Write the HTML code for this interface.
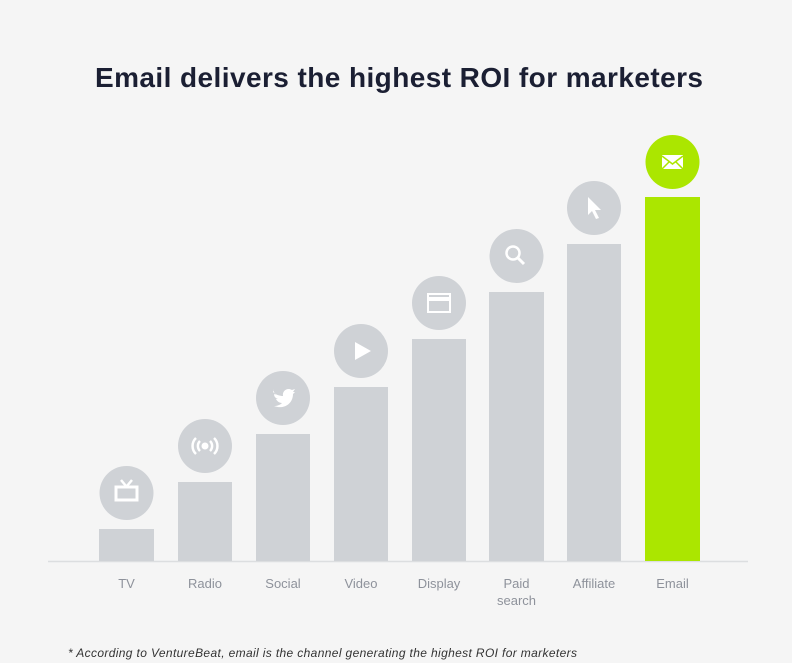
<!DOCTYPE html>
<html><head><style>
body{margin:0;background:#f5f5f5;}
svg{display:block;font-family:"Liberation Sans",sans-serif;}
</style></head><body>
<svg width="792" height="663" viewBox="0 0 792 663">
<rect width="792" height="663" fill="#f5f5f5"/>
<text x="95" y="87" font-size="28" font-weight="bold" fill="#1b1f33" textLength="608" lengthAdjust="spacing">Email delivers the highest ROI for marketers</text>
<line x1="48" y1="561.5" x2="748" y2="561.5" stroke="#dcdee0" stroke-width="1.5"/>
<g fill="#cfd2d6">
<rect x="99" y="529" width="55" height="32"/><circle cx="126.5" cy="493" r="27"/>
<rect x="178" y="482" width="54" height="79"/><circle cx="205" cy="446" r="27"/>
<rect x="256" y="434" width="54" height="127"/><circle cx="283" cy="398" r="27"/>
<rect x="334" y="387" width="54" height="174"/><circle cx="361" cy="351" r="27"/>
<rect x="412" y="339" width="54" height="222"/><circle cx="439" cy="303" r="27"/>
<rect x="489" y="292" width="55" height="269"/><circle cx="516.5" cy="256" r="27"/>
<rect x="567" y="244" width="54" height="317"/><circle cx="594" cy="208" r="27"/>
</g>
<g fill="#abe600"><rect x="645" y="197" width="55" height="364"/><circle cx="672.5" cy="162" r="27"/></g>
<g fill="none" stroke="#fff" stroke-width="2.5">
<rect x="116" y="487" width="21" height="13" stroke-width="3"/><line x1="121" y1="480" x2="126" y2="486"/><line x1="132" y1="480" x2="127" y2="486"/>
<path d="M196 438 a11 11 0 0 0 0 16 M214 438 a11 11 0 0 1 0 16 M200 441 a7 7 0 0 0 0 10 M210 441 a7 7 0 0 1 0 10"/>
<rect x="428" y="294" width="22" height="18" stroke-width="2"/><line x1="428" y1="299" x2="450" y2="299" stroke-width="4"/>
<circle cx="513" cy="253" r="6.5" stroke-width="2.5"/><line x1="518" y1="258" x2="524" y2="264" stroke-width="3"/>
</g>
<g fill="#fff">
<circle cx="205" cy="446" r="3.5"/>
<path d="M355 342 L371 351 L355 360Z"/>
<path d="M588 197 L588 215 L592 211 L596 219 L599 218 L595 210 L601 210Z"/>
<path d="M273 392 c3 3 7 4 10 4 c-1-5 4-9 9-6 l3-1 l-2 3 l2 0 l-2 2 c0 9-8 16-19 12 c3 0 6-1 8-3 c-3 0-5-2-6-4 l2 0 c-3-1-4-3-4-5 l2 1 c-2-2-3-5-2-6z"/>
<path d="M662 155 h21 v14 h-21z"/>
</g>
<path d="M662 156 L672.5 164 L683 156 M662 169 L669 162 M683 169 L676 162" stroke="#abe600" stroke-width="1.5" fill="none"/>
<g font-size="13" fill="#8e929b" text-anchor="middle">
<text x="126.5" y="588">TV</text><text x="205" y="588">Radio</text><text x="283" y="588">Social</text>
<text x="361" y="588">Video</text><text x="439" y="588">Display</text><text x="516.5" y="588">Paid</text>
<text x="516.5" y="605">search</text><text x="594" y="588">Affiliate</text><text x="672.5" y="588">Email</text>
</g>
<text x="68" y="657" font-size="12" font-style="italic" fill="#333" textLength="509" lengthAdjust="spacing">* According to VentureBeat, email is the channel generating the highest ROI for marketers</text>
</svg>
</body></html>
